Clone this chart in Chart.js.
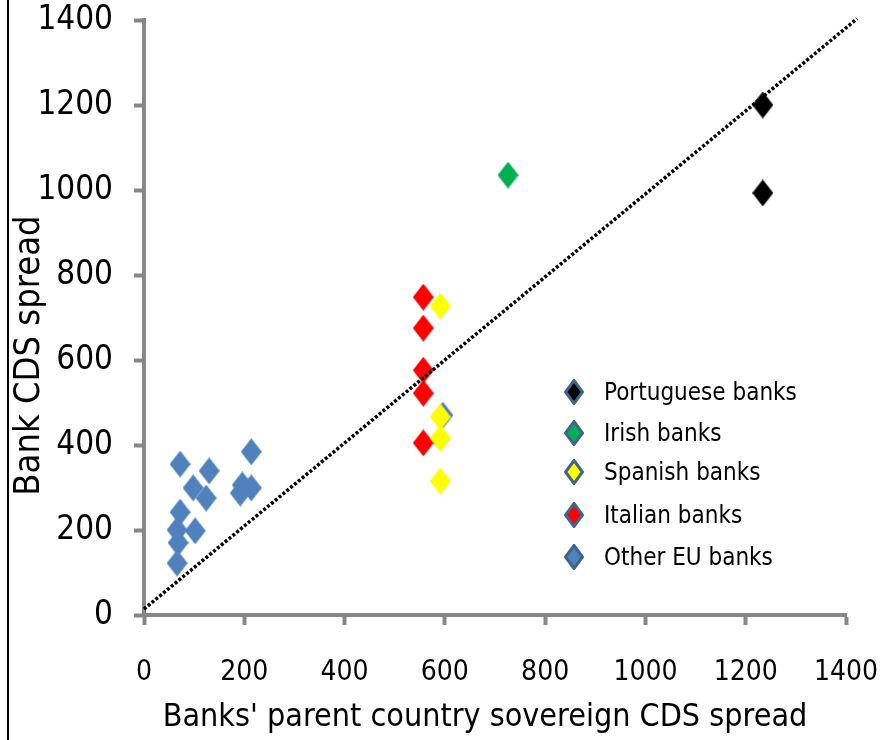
<!DOCTYPE html>
<html>
<head>
<meta charset="utf-8">
<script src="https://cdn.jsdelivr.net/npm/chart.js@4.4.1/dist/chart.umd.min.js"></script>
<style>
  html, body { margin: 0; padding: 0; background: #fff; }
  #wrap { position: relative; width: 880px; height: 740px; overflow: hidden; background: #fff; }
  #frame { position: absolute; left: 7px; top: 0; width: 2px; height: 740px; background: #000; }
  #c { position: absolute; left: 0; top: 0; }
  #legend { position: absolute; left: 0; top: 0; width: 880px; height: 740px; pointer-events: none;
            font-family: 'Liberation Sans Narrow', 'Arial Narrow', 'DejaVu Sans Condensed', sans-serif;
            font-size: 24px; color: #000; }
  .item { position: absolute; left: 564px; height: 30px; display: flex; align-items: center; white-space: nowrap; }
  .item canvas { display: block; margin-right: 20px; }
</style>
</head>
<body>
<div id="wrap">
  <div id="frame"></div>
  <canvas id="c" width="880" height="740"></canvas>
  <div id="legend"></div>
</div>
<script>
// ---- data ----
const seriesNames = ['Portuguese banks', 'Irish banks', 'Spanish banks', 'Italian banks', 'Other EU banks'];
const seriesColors = ['#000000', '#00b050', '#ffff00', '#ff0000', '#4f81bd'];

const portugueseX = [1234, 1234];
const portugueseY = [1200, 993];

const irishX = [726];
const irishY = [1035];

const spanishX = [591, 591, 591, 591];
const spanishY = [727, 466, 416, 315];

const italianX = [557, 557, 557, 557, 557];
const italianY = [748, 675, 576, 522, 405];

const otherX = [72, 130, 98, 124, 72, 66, 102, 68, 66, 214, 196, 214, 192, 596];
const otherY = [355, 339, 299, 275, 242, 200, 198, 170, 122, 384, 306, 299, 287, 470];

const trendX = [0, 1422];
const trendY = [14, 1403];

const axisTicks = [0, 200, 400, 600, 800, 1000, 1200, 1400];
const xTitle = "Banks' parent country sovereign CDS spread";
const yTitle = 'Bank CDS spread';

// ---- helpers ----
const FONT = "'Liberation Sans Narrow', 'Arial Narrow', 'DejaVu Sans Condensed', sans-serif";
function pts(xs, ys) { return xs.map((x, i) => ({ x: x, y: ys[i] })); }
function diamond(color, w, h, border, bw) {
  const cv = document.createElement('canvas');
  cv.width = w; cv.height = h;
  const g = cv.getContext('2d');
  const m = bw ? bw / 2 : 0;
  g.beginPath();
  g.moveTo(w / 2, m); g.lineTo(w - m, h / 2); g.lineTo(w / 2, h - m); g.lineTo(m, h / 2); g.closePath();
  g.fillStyle = color; g.fill();
  if (bw) { g.lineWidth = bw; g.strokeStyle = border; g.lineJoin = 'miter'; g.stroke(); }
  return cv;
}
const xsList = [portugueseX, irishX, spanishX, italianX, otherX];
const ysList = [portugueseY, irishY, spanishY, italianY, otherY];

const scatterSets = seriesNames.map((name, i) => ({
  label: name,
  data: pts(xsList[i], ysList[i]),
  pointStyle: diamond(seriesColors[i], 21, 27),
  backgroundColor: seriesColors[i],
  borderColor: seriesColors[i],
  pointRadius: 10,
  showLine: false
}));

const trendSet = {
  label: 'trend',
  data: pts(trendX, trendY),
  showLine: true,
  borderColor: '#000',
  borderWidth: 3.5,
  borderDash: [3, 2],
  pointRadius: 0,
  fill: false,
  clip: false
};

// Portuguese on top of the line, line on top of the others (index 0 is drawn last)
const datasets = [scatterSets[0], trendSet, scatterSets[1], scatterSets[2], scatterSets[3], scatterSets[4]];

const AXIS_GREY = '#878787';

const titleShift = {
  id: 'titleShift',
  beforeDraw(chart) {
    const s = chart.scales.y;
    if (s && !s.__shifted) {
      const orig = s.drawTitle;
      s.drawTitle = function () { this.ctx.save(); this.ctx.translate(0, 38); orig.call(this); this.ctx.restore(); };
      s.__shifted = true;
    }
    const sx = chart.scales.x;
    if (sx && !sx.__shifted) {
      const origx = sx.drawTitle;
      sx.drawTitle = function () { this.ctx.save(); this.ctx.translate(-10, 0); origx.call(this); this.ctx.restore(); };
      sx.__shifted = true;
    }
  }
};

function noPad(s) { s.paddingTop = 0; s.paddingBottom = 0; s.paddingLeft = 0; s.paddingRight = 0; }

Chart.defaults.font.family = FONT;
Chart.defaults.color = '#000';

new Chart(document.getElementById('c'), {
  type: 'scatter',
  data: { datasets: datasets },
  plugins: [titleShift],
  options: {
    responsive: false,
    animation: false,
    devicePixelRatio: 1,
    layout: { padding: { left: 0, top: 20, right: 34, bottom: 0 } },
    plugins: { legend: { display: false }, tooltip: { enabled: false }, title: { display: false } },
    scales: {
      x: {
        type: 'linear', min: 0, max: 1400,
        afterBuildTicks(s) { s.ticks = axisTicks.map(v => ({ value: v })); },
        afterFit(s) { s.height = 125; noPad(s); },
        grid: { display: true, drawOnChartArea: false, drawTicks: true, tickLength: 10, tickWidth: 4, tickColor: AXIS_GREY },
        border: { display: true, color: AXIS_GREY, width: 4 },
        ticks: { font: { size: 28 }, color: '#000', padding: 31, maxRotation: 0, callback: v => String(v) },
        title: { display: true, text: xTitle, font: { size: 32 }, color: '#000', padding: { top: 0, bottom: 3 } }
      },
      y: {
        type: 'linear', min: 0, max: 1400,
        afterBuildTicks(s) { s.ticks = axisTicks.map(v => ({ value: v })); },
        afterFit(s) { s.width = 144; noPad(s); },
        grid: { display: true, drawOnChartArea: false, drawTicks: true, tickLength: 10, tickWidth: 4, tickColor: AXIS_GREY },
        border: { display: true, color: AXIS_GREY, width: 4 },
        ticks: { font: { size: 33, lineHeight: 1.2 }, color: '#000', padding: 21, callback: v => String(v) },
        title: { display: true, text: yTitle, font: { size: 36 }, color: '#000', padding: { top: 8, bottom: 0 } }
      }
    }
  }
});

// ---- HTML legend built from the series ----
const legend = document.getElementById('legend');
const rowCenters = [392, 433, 472, 515, 557];
seriesNames.forEach((name, i) => {
  const row = document.createElement('div');
  row.className = 'item';
  row.style.top = (rowCenters[i] - 15) + 'px';
  row.appendChild(diamond(seriesColors[i], 20, 26, '#41648e', 3));
  const t = document.createElement('span');
  t.textContent = name;
  row.appendChild(t);
  legend.appendChild(row);
});
</script>
</body>
</html>
